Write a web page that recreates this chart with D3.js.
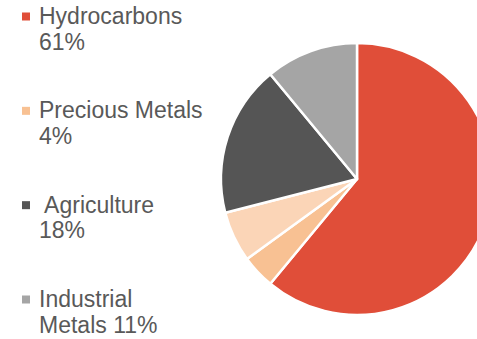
<!DOCTYPE html>
<html>
<head>
<meta charset="utf-8">
<script src="https://cdn.jsdelivr.net/npm/d3@7"></script>
<style>
  html, body { margin: 0; padding: 0; background: #ffffff; }
  svg { display: block; }
  text { font-family: "Liberation Sans", Arial, sans-serif; }
</style>
</head>
<body>
<svg id="chart" width="477" height="339"></svg>
<script>
// Commodity weights, clockwise from 12 o'clock
const sectors = ["Hydrocarbons", "Precious Metals", "Other", "Agriculture", "Industrial Metals"];
const weights = [61, 4, 6, 18, 11];
const colors = ["#E04E39", "#F8C193", "#FBD5B7", "#555555", "#A5A5A5"];

// Legend entries: label lines and the sector they refer to
const legendSectors = ["Hydrocarbons", "Precious Metals", "Agriculture", "Industrial Metals"];
const legendLines = [
  ["Hydrocarbons", "61%"],
  ["Precious Metals", "4%"],
  [" Agriculture", "18%"],
  ["Industrial", "Metals 11%"]
];

const svg = d3.select("#chart");

const color = d3.scaleOrdinal().domain(sectors).range(colors);

// Pie
const cx = 357, cy = 179, R = 136;
const pie = d3.pie().sort(null).value(d => d.value);
const arc = d3.arc().innerRadius(0).outerRadius(R);
const data = sectors.map((s, i) => ({ name: s, value: weights[i] }));

svg.append("g")
  .attr("transform", `translate(${cx},${cy})`)
  .selectAll("path")
  .data(pie(data))
  .join("path")
  .attr("d", arc)
  .attr("fill", d => color(d.data.name))
  .attr("stroke", "#ffffff")
  .attr("stroke-width", 2.5)
  .attr("stroke-linejoin", "round");

// Legend
const legendY = d3.scalePoint().domain(legendSectors).range([24, 307]);
const fontSize = 23, lineH = 25.5;

const items = svg.append("g")
  .selectAll("g")
  .data(legendSectors)
  .join("g")
  .attr("transform", d => `translate(0,${legendY(d)})`);

items.append("rect")
  .attr("x", 22)
  .attr("y", -11.5)
  .attr("width", 8)
  .attr("height", 8)
  .attr("fill", d => color(d));

items.each(function(d, i) {
  const t = d3.select(this).append("text")
    .attr("x", 39)
    .attr("y", 0)
    .attr("font-size", fontSize)
    .attr("fill", "#595959")
    .style("white-space", "pre");
  legendLines[i].forEach((line, j) => {
    t.append("tspan")
      .attr("x", 39)
      .attr("y", j * lineH)
      .text(line);
  });
});
</script>
</body>
</html>
